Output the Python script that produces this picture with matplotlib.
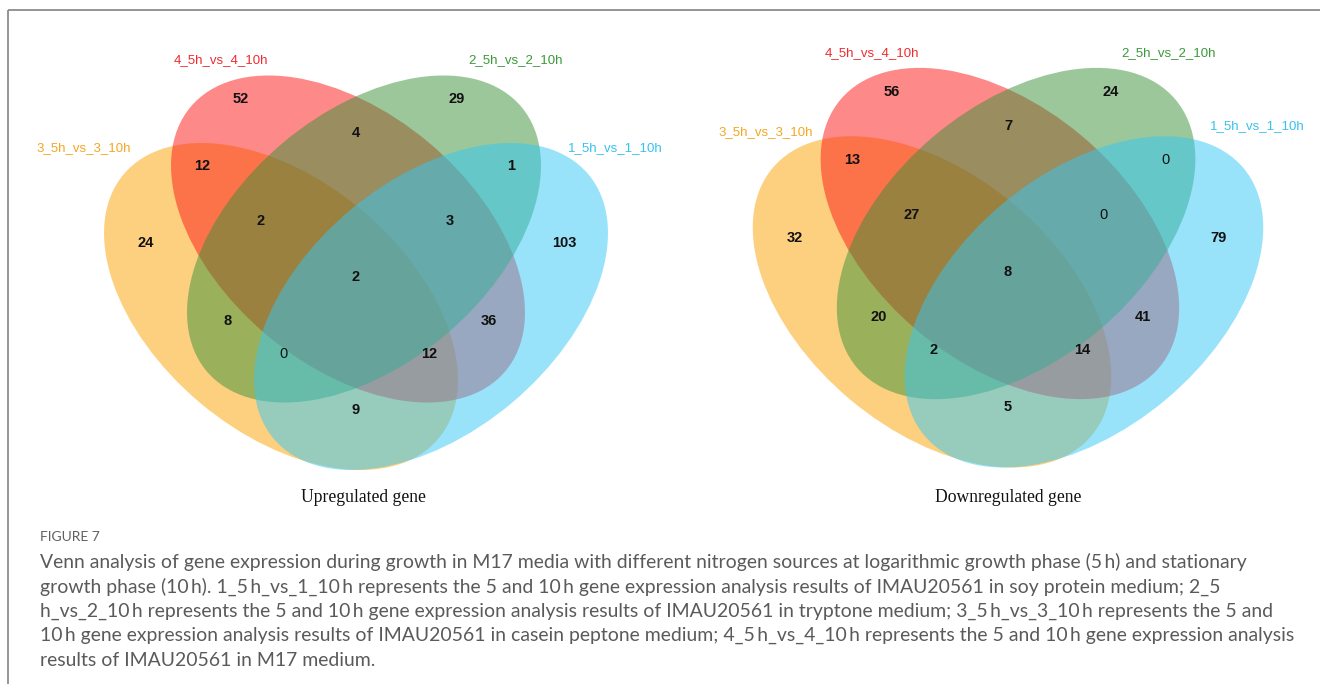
import matplotlib
matplotlib.use("Agg")
import matplotlib.pyplot as plt
from matplotlib.patches import Ellipse

# Sets, in drawing order: A = 3_5h, B = 4_5h, C = 2_5h, D = 1_5h
SET_NAMES = ["3_5h_vs_3_10h", "4_5h_vs_4_10h", "2_5h_vs_2_10h", "1_5h_vs_1_10h"]
SET_FILLS = ["#FBA300", "#FD1515", "#399139", "#33C7F7"]
SET_TEXT = ["#F5A623", "#EE2C30", "#3A993A", "#36C2EE"]

REGIONS = ["B", "C", "BC", "AB", "CD", "A", "ABC", "BCD", "D",
           "ABCD", "AC", "BD", "ACD", "ABD", "AD"]
UP_COUNTS = [52, 29, 4, 12, 1, 24, 2, 3, 103, 2, 8, 36, 0, 12, 9]
DOWN_COUNTS = [56, 24, 7, 13, 0, 32, 27, 0, 79, 8, 20, 41, 2, 14, 5]
PANEL_TITLES = ["Upregulated gene", "Downregulated gene"]

FIG_LABEL = "FIGURE 7"
CAPTION = [
    "Venn analysis of gene expression during growth in M17 media with different nitrogen sources at logarithmic growth phase (5\u2009h) and stationary",
    "growth phase (10\u2009h). 1_5\u2009h_vs_1_10\u2009h represents the 5 and 10\u2009h gene expression analysis results of IMAU20561 in soy protein medium; 2_5",
    "h_vs_2_10\u2009h represents the 5 and 10\u2009h gene expression analysis results of IMAU20561 in tryptone medium; 3_5\u2009h_vs_3_10\u2009h represents the 5 and",
    "10\u2009h gene expression analysis results of IMAU20561 in casein peptone medium; 4_5\u2009h_vs_4_10\u2009h represents the 5 and 10\u2009h gene expression analysis",
    "results of IMAU20561 in M17 medium.",
]

# --- layout (pixel units, y down) ---
W, H = 1320, 684
SEMI_A, SEMI_B, TILT = 205.5, 125.8, 40
# ellipse centres relative to the diagram centre
ELL_OFF = [(-75, 29.5), (-8, -38), (8, -38), (75, 29.5)]
ELL_ANG = [TILT, TILT, -TILT, -TILT]
REGION_OFF = {
    "B": (-115, -178), "C": (101, -178), "BC": (0, -144),
    "AB": (-154, -111), "CD": (155, -111), "A": (-210, -34),
    "ABC": (-95, -56), "BCD": (94, -56), "D": (208, -34),
    "ABCD": (0, 0), "AC": (-128, 44), "BD": (133, 44),
    "ACD": (-73, 77), "ABD": (73, 77), "AD": (0, 133),
}
PANELS = [
    dict(cx=356, cy=277, s=1.0, title=(363, 497),
         labels=[(84, 148), (221, 60), (516, 60), (615, 148)]),
    dict(cx=1008, cy=272, s=1.013, title=(1008, 497),
         labels=[(766, 132), (872, 53), (1169, 53), (1257, 126)]),
]

fig = plt.figure(figsize=(W / 100, H / 100), dpi=100)
ax = fig.add_axes([0, 0, 1, 1])
ax.set_xlim(0, W)
ax.set_ylim(H, 0)
ax.axis("off")

# frame: only top and left edges show
ax.plot([8, W], [10, 10], color="#8c8c8c", lw=1.3, solid_capstyle="butt")
ax.plot([8, 8], [10, H], color="#8c8c8c", lw=1.3, solid_capstyle="butt")

sans = ["Liberation Sans", "DejaVu Sans"]
for panel, counts, title in zip(PANELS, [UP_COUNTS, DOWN_COUNTS], PANEL_TITLES):
    cx, cy, s = panel["cx"], panel["cy"], panel["s"]
    for (dx, dy), ang, col in zip(ELL_OFF, ELL_ANG, SET_FILLS):
        ax.add_patch(Ellipse((cx + dx * s, cy + dy * s), 2 * SEMI_A * s, 2 * SEMI_B * s,
                             angle=ang, facecolor=col, alpha=0.5, lw=0, edgecolor="none"))
    for reg, n in zip(REGIONS, counts):
        dx, dy = REGION_OFF[reg]
        ax.text(cx + dx * s, cy + dy * s, str(n), ha="center", va="center",
                fontsize=10.5, family=sans, color="#111111",
                fontweight="normal" if n == 0 else "bold")
    for name, (lx, ly), col in zip(SET_NAMES, panel["labels"], SET_TEXT):
        ax.text(lx, ly, name, ha="center", va="center", fontsize=9.5,
                family=sans, color=col)
    ax.text(*panel["title"], title, ha="center", va="center", fontsize=12.7,
            family=["Liberation Serif", "DejaVu Serif"], color="#111111")

cap_font = ["Lato", "DejaVu Sans"]
ax.text(40, 537, FIG_LABEL, ha="left", va="center", fontsize=10,
        family=cap_font, color="#606060")
for i, line in enumerate(CAPTION):
    ax.text(40, 562 + 24.5 * i, line, ha="left", va="center", fontsize=13.95,
            family=cap_font, color="#5a5a5a")

fig.savefig("out.png", dpi=100)
